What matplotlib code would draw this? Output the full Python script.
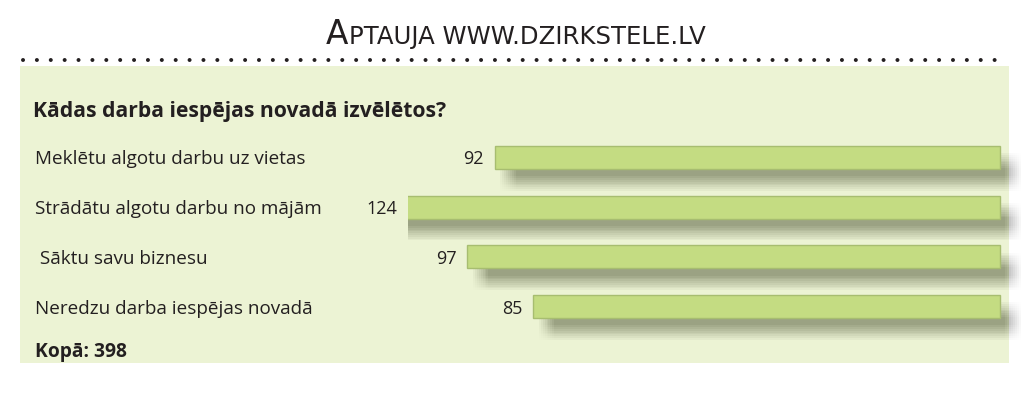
import matplotlib
matplotlib.use("Agg")
import matplotlib.pyplot as plt
import matplotlib.patheffects as pe
from matplotlib.patches import Rectangle
from matplotlib.lines import Line2D
import matplotlib.transforms as mtrans

# survey data
question = "Kādas darba iespējas novadā izvēlētos?"
categories = ["Meklētu algotu darbu uz vietas",
              "Strādātu algotu darbu no mājām",
              " Sāktu savu biznesu",
              "Neredzu darba iespējas novadā"]
values = [92, 124, 97, 85]
total_label = "Kopā: 398"

W, H = 1024, 399
fig = plt.figure(figsize=(W / 100, H / 100), dpi=100)
fig.patch.set_facecolor("white")

def fx(px):
    return px / W

def fy(py):
    return 1 - py / H

panel_col = "#ecf3d4"
bar_col = "#c4dc82"
text_col = "#231f20"
sans = ["Open Sans", "Noto Sans", "DejaVu Sans"]

# green panel
fig.patches.append(Rectangle((fx(20), fy(363)), fx(989), 297 / H,
                             transform=fig.transFigure, facecolor=panel_col,
                             edgecolor="none", zorder=-5))

# dotted rule
fig.lines.append(Line2D([fx(22.7), fx(1007.5)], [fy(60), fy(60)],
                        transform=fig.transFigure, color="#231f20",
                        linestyle=(0, (0.01, 3.46)), linewidth=2.88,
                        dash_capstyle="round", zorder=-4))

# title in small caps
t1 = fig.text(fx(326), fy(44), "A", fontsize=23.6, family="DejaVu Sans",
              color=text_col, va="baseline", ha="left")
fig.canvas.draw()
bb = t1.get_window_extent()
fig.text(bb.x1 / W + 0.001, fy(44), "PTAUJA WWW.DZIRKSTELE.LV", fontsize=17.6,
         family="DejaVu Sans", color=text_col, va="baseline", ha="left")

# question and total
fig.text(fx(33), fy(111), question, fontsize=15.2, fontweight="bold",
         family=sans, color=text_col, va="center", ha="left")
fig.text(fx(35), fy(352), total_label, fontsize=13.9, fontweight="bold",
         family=sans, color=text_col, va="center", ha="left")

# bar axes, right-aligned bars
k = 5.49  # px per unit
ax_left, ax_right = 408, 1024
ax = fig.add_axes([fx(ax_left), fy(363), fx(ax_right - ax_left), 297 / H], zorder=1)
ax.set_xlim((1000 - ax_left) / k, (1000 - ax_right) / k)
step = 49.67
ax.set_ylim((363 - 157.5) / step, (66 - 157.5) / step)
ax.axis("off")
ax.patch.set_alpha(0)

# soft drop shadow built from stacked offsets (pt units, 1px = 0.72pt)
shadow = []
for dx in range(-4, 5):
    for dy in range(-4, 5):
        shadow.append(pe.SimplePatchShadow(offset=(9.5 + dx * 1.4, -10.5 + dy * 1.3),
                                           shadow_rgbFace="#55584a", alpha=0.0045))
shadow.append(pe.Normal())

ypos = list(range(len(values)))
bars = ax.barh(ypos, values, height=23 / step, color=bar_col,
               edgecolor="#a7bd70", linewidth=1.0)
for b in bars:
    b.set_path_effects(shadow)

xmax = ax.get_xlim()[0]
for y, v in zip(ypos, values):
    ax.annotate(str(v), xy=(min(v, xmax), y), xytext=(-11, 0),
                textcoords="offset pixels", ha="right", va="center_baseline",
                fontsize=13, family=sans, color=text_col,
                annotation_clip=False)

lab_tr = mtrans.blended_transform_factory(fig.transFigure, ax.transData)
for y, c in zip(ypos, categories):
    ax.text(fx(35), y, c, transform=lab_tr, ha="left", va="center_baseline",
            fontsize=13.6, family=sans, color=text_col)

fig.savefig("out.png", dpi=100, facecolor="white")
